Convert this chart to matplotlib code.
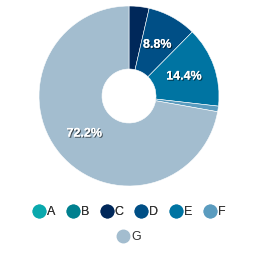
import matplotlib
matplotlib.use("Agg")
import matplotlib.pyplot as plt
import matplotlib.patheffects as pe
from matplotlib.lines import Line2D

# --- Dados ---
categorias = ["A", "B", "C", "D", "E", "F", "G"]
valores = [0.0, 0.0, 3.6, 8.8, 14.4, 1.0, 72.2]
cores = ["#0aa9ad", "#00808f", "#00285a", "#004f86", "#0074a2", "#5b9cbf", "#a3bdcf"]

plt.rcParams["font.family"] = ["Liberation Sans", "DejaVu Sans"]

fig = plt.figure(figsize=(2.59, 2.54), dpi=100)
ax = fig.add_axes([39 / 259, 68 / 254, 180 / 259, 180 / 254])

def rotulo(p):
    # so mostra rotulos de fatias maiores
    return f"{p:.1f}%" if p >= 5 else ""

wedges, textos, autotextos = ax.pie(
    valores, colors=cores, startangle=90, counterclock=False,
    radius=1.0, autopct=rotulo, pctdistance=0.65,
    wedgeprops=dict(width=0.7, edgecolor="white", linewidth=0.4),
    textprops=dict(color="white", fontsize=9, fontweight="bold"))

for t in autotextos:
    t.set_path_effects([pe.withSimplePatchShadow(offset=(0.8, -0.8), shadow_rgbFace="black", alpha=0.6),
                        pe.Normal()])

ax.set_xlim(-1, 1)
ax.set_ylim(-1, 1)
ax.set_aspect("equal")
ax.axis("off")

# --- Legenda em duas linhas ---
handles = [Line2D([0], [0], marker="o", linestyle="", markersize=9,
                  markerfacecolor=c, markeredgecolor=c) for c in cores]

leg1 = fig.legend(handles[:6], categorias[:6], loc="center", ncol=6,
                  bbox_to_anchor=(0.5, 1 - 212 / 254), frameon=False,
                  fontsize=9, handlelength=0.8, handletextpad=0.25,
                  columnspacing=1.0, labelcolor="#333333")
fig.add_artist(leg1)
fig.legend(handles[6:], categorias[6:], loc="center", ncol=1,
           bbox_to_anchor=(0.5, 1 - 237 / 254), frameon=False,
           fontsize=9, handlelength=0.8, handletextpad=0.25,
           labelcolor="#333333")

fig.savefig("out.png", dpi=100, facecolor="white")
